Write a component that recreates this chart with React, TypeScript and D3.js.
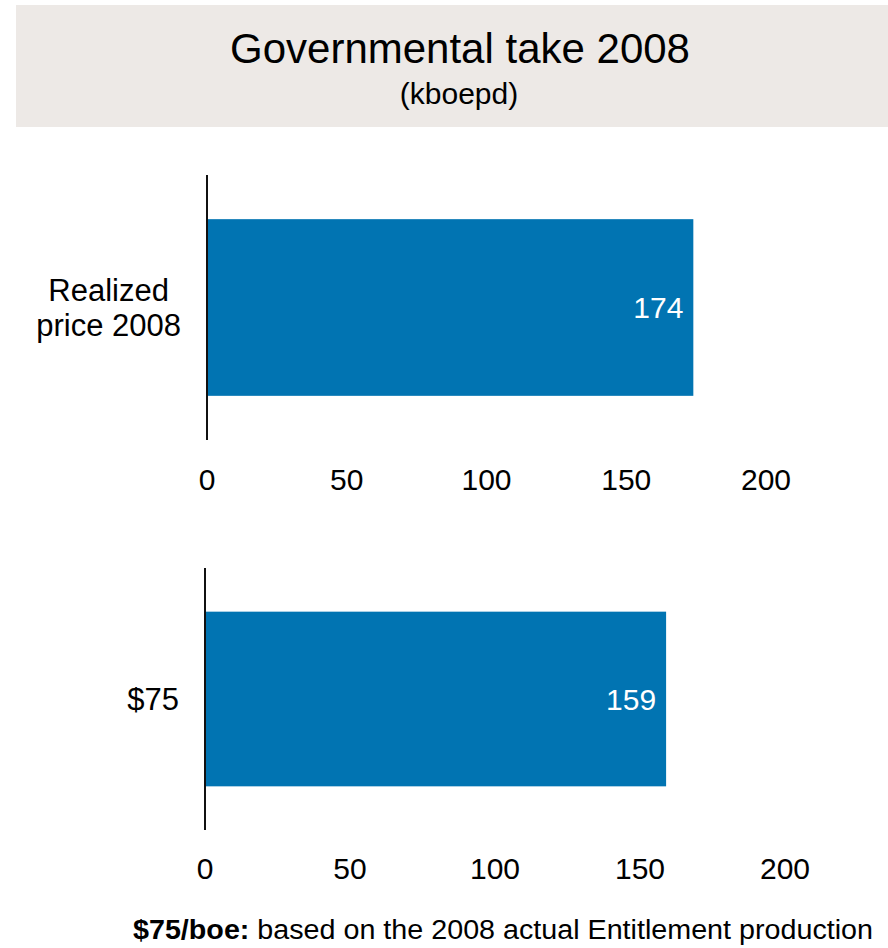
import React, { useEffect, useRef } from "react";
import * as d3 from "d3";

const TITLE = "Governmental take 2008";
const SUBTITLE = "(kboepd)";
const categories = [["Realized", "price 2008"], ["$75"]];
const values = [174, 159];
const tickValues = [0, 50, 100, 150, 200];
const footnoteBold = "$75/boe:";
const footnoteText = " based on the 2008 actual Entitlement production";

const W = 888;
const H = 948;
const FONT = "'Liberation Sans', Arial, Helvetica, sans-serif";
const BAR = "#0174b2";

// panel layout (pixels)
const panels = [
  { axisX: 207, xEnd: 766, top: 175, bottom: 440, tickY: 490 },
  { axisX: 205, xEnd: 785, top: 568, bottom: 830, tickY: 879 },
];

export default function App() {
  const ref = useRef<SVGSVGElement | null>(null);

  useEffect(() => {
    const svg = d3.select(ref.current);
    svg.selectAll("*").remove();

    // title band
    svg.append("rect").attr("x", 16).attr("y", 5).attr("width", W - 16).attr("height", 122).attr("fill", "#ede9e6");
    svg.append("text").attr("x", 460).attr("y", 63).attr("text-anchor", "middle")
      .attr("font-size", 42).attr("font-family", FONT).attr("fill", "#000").text(TITLE);
    svg.append("text").attr("x", 459).attr("y", 104).attr("text-anchor", "middle")
      .attr("font-size", 30).attr("font-family", FONT).attr("fill", "#000").text(SUBTITLE);

    panels.forEach((p, i) => {
      const g = svg.append("g");
      const x = d3.scaleLinear().domain([0, 200]).range([p.axisX, p.xEnd]);
      const y = d3.scaleBand<string>().domain([String(i)]).range([p.top, p.bottom]).paddingInner(0.2).paddingOuter(0.2);
      const y0 = y(String(i)) as number;
      const bw = y.bandwidth();

      g.append("rect").attr("x", x(0)).attr("y", y0).attr("width", x(values[i]) - x(0)).attr("height", bw).attr("fill", BAR);

      g.append("line").attr("x1", x(0)).attr("x2", x(0)).attr("y1", p.top).attr("y2", p.bottom)
        .attr("stroke", "#111").attr("stroke-width", 2);

      g.append("text").attr("x", x(values[i]) - 10).attr("y", y0 + bw / 2).attr("dy", "0.35em")
        .attr("text-anchor", "end").attr("font-size", 30).attr("font-family", FONT).attr("fill", "#fff")
        .text(String(values[i]));

      g.selectAll("text.tick").data(tickValues).enter().append("text").attr("class", "tick")
        .attr("x", (d) => x(d)).attr("y", p.tickY).attr("text-anchor", "middle")
        .attr("font-size", 30).attr("font-family", FONT).attr("fill", "#000").text((d) => String(d));

      // category label: block right-aligned, lines centered
      const lines = categories[i];
      const lh = 35;
      const cy = y0 + bw / 2;
      const lab = g.append("text").attr("font-size", 31).attr("font-family", FONT).attr("fill", "#000").attr("text-anchor", "middle");
      const spans = lab.selectAll("tspan").data(lines).enter().append("tspan")
        .attr("y", (_d, k) => cy + (k - (lines.length - 1) / 2) * lh).attr("dy", "0.35em").text((d) => d);
      let maxW = 0;
      spans.each(function () {
        maxW = Math.max(maxW, (this as SVGTSpanElement).getComputedTextLength());
      });
      spans.attr("x", x(0) - 26 - maxW / 2);
    });

    const foot = svg.append("text").attr("x", 133).attr("y", 939).attr("font-size", 27).attr("font-family", FONT).attr("fill", "#000")
      .attr("textLength", 740).attr("lengthAdjust", "spacingAndGlyphs");
    foot.append("tspan").attr("font-weight", "bold").text(footnoteBold);
    foot.append("tspan").text(footnoteText);
  }, []);

  return (
    <svg ref={ref} width={W} height={H} style={{ position: "absolute", left: 0, top: 0, background: "#fff" }} />
  );
}
